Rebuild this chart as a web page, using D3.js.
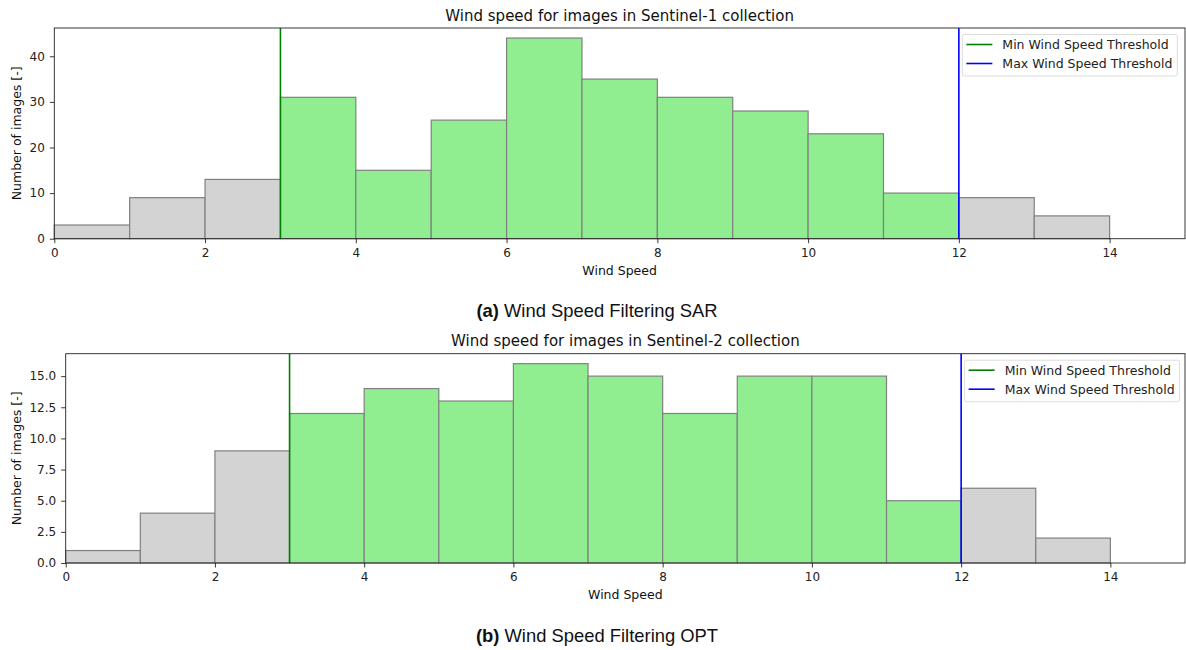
<!DOCTYPE html>
<html><head><meta charset="utf-8">
<script src="https://cdn.jsdelivr.net/npm/d3@7"></script>
<style>
body{margin:0;background:#fff;}
svg{display:block;}
</style></head>
<body>
<svg id="c" width="1186" height="650"></svg>
<script>
const binEdges = [0,1,2,3,4,5,6,7,8,9,10,11,12,13,14];
const sarCounts = [3,9,13,31,15,26,44,35,31,28,23,10,9,5];
const optCounts = [1,4,9,12,14,13,16,15,12,15,15,5,6,2];
const minThreshold = 3;
const maxThreshold = 12;
const xTicks = [0,2,4,6,8,10,12,14];
const sarYTicks = [0,10,20,30,40];
const optYTicks = [0,2.5,5,7.5,10,12.5,15];
const titles = ["Wind speed for images in Sentinel-1 collection","Wind speed for images in Sentinel-2 collection"];
const captions = [["(a)"," Wind Speed Filtering SAR"],["(b)"," Wind Speed Filtering OPT"]];
const legendLabels = ["Min Wind Speed Threshold","Max Wind Speed Threshold"];

const svg = d3.select("#c");
const FONT = "DejaVu Sans, sans-serif";

function panel(cfg){
  const {left,right,top,bottom,counts,yTicks,yFmt,title,caption,captionY} = cfg;
  const ymax = d3.max(counts)*1.05;
  const x = d3.scaleLinear().domain([0,15]).range([left,right]);
  const y = d3.scaleLinear().domain([0,ymax]).range([bottom,top]);
  const g = svg.append("g");
  const bins = counts.map((c,i)=>({x0:binEdges[i],x1:binEdges[i]+1,c}));
  g.selectAll("rect.bar").data(bins).join("rect")
    .attr("x",d=>x(d.x0)).attr("width",d=>x(d.x1)-x(d.x0))
    .attr("y",d=>y(d.c)).attr("height",d=>y(0)-y(d.c))
    .attr("fill",d=>(d.x0>=minThreshold && d.x1<=maxThreshold)?"#90ee90":"#d3d3d3")
    .attr("stroke","#808080").attr("stroke-width",1.2);
  g.append("line").attr("x1",x(minThreshold)).attr("x2",x(minThreshold)).attr("y1",top).attr("y2",bottom)
    .attr("stroke","#008000").attr("stroke-width",1.6);
  g.append("line").attr("x1",x(maxThreshold)).attr("x2",x(maxThreshold)).attr("y1",top).attr("y2",bottom)
    .attr("stroke","#0000ff").attr("stroke-width",1.6);
  const xa = g.append("g").attr("transform",`translate(0,${bottom})`)
    .call(d3.axisBottom(x).tickValues(xTicks).tickSize(4.5).tickPadding(5).tickFormat(d3.format("d")));
  const ya = g.append("g").attr("transform",`translate(${left},0)`)
    .call(d3.axisLeft(y).tickValues(yTicks).tickSize(4.5).tickPadding(5).tickFormat(yFmt));
  [xa,ya].forEach(a=>{
    a.select(".domain").remove();
    a.selectAll("text").attr("font-family",FONT).attr("font-size",12).attr("fill","#222");
    a.selectAll("line").attr("stroke","#222").attr("stroke-width",0.9);
  });
  g.append("rect").attr("x",left).attr("y",top).attr("width",right-left).attr("height",bottom-top)
    .attr("fill","none").attr("stroke","#222").attr("stroke-width",0.9);
  g.append("text").attr("x",(left+right)/2).attr("y",top-7.3).attr("text-anchor","middle")
    .attr("font-family",FONT).attr("font-size",15).attr("fill","#111").text(title);
  g.append("text").attr("x",(left+right)/2).attr("y",bottom+36).attr("text-anchor","middle")
    .attr("font-family",FONT).attr("font-size",12.5).attr("fill","#111").text("Wind Speed");
  g.append("text").attr("transform",`translate(21,${(top+bottom)/2}) rotate(-90)`).attr("text-anchor","middle")
    .attr("font-family",FONT).attr("font-size",12.5).attr("fill","#111").text("Number of images [-]");
  const lg = g.append("g");
  const lx = x(maxThreshold)+3.5, ly = top+6.5;
  const box = lg.append("rect").attr("x",lx).attr("y",ly).attr("rx",2).attr("fill","#fff").attr("fill-opacity",0.8)
    .attr("stroke","#d8d8d8").attr("stroke-width",0.9);
  const cols = ["#008000","#0000ff"];
  let maxW = 0;
  legendLabels.forEach((lab,i)=>{
    const ry = ly+10+i*19;
    lg.append("line").attr("x1",lx+4).attr("x2",lx+30).attr("y1",ry).attr("y2",ry).attr("stroke",cols[i]).attr("stroke-width",1.6);
    const t = lg.append("text").attr("x",lx+40).attr("y",ry+4.3).attr("font-family",FONT).attr("font-size",12.5)
      .attr("fill","#222").text(lab);
    maxW = Math.max(maxW,t.node().getComputedTextLength());
  });
  box.attr("width",40+maxW+5).attr("height",41.5);
  const ct = svg.append("text").attr("x",597).attr("y",captionY).attr("text-anchor","middle")
    .attr("font-family","Liberation Sans, Arial, sans-serif").attr("font-size",18.4).attr("fill","#111");
  ct.append("tspan").attr("font-weight","bold").text(caption[0]);
  ct.append("tspan").text(caption[1]);
}

panel({left:54.3,right:1185,top:28,bottom:238.7,counts:sarCounts,yTicks:sarYTicks,yFmt:d3.format("d"),
  title:titles[0],caption:captions[0],captionY:316.5});
panel({left:65.7,right:1185,top:353.7,bottom:563,counts:optCounts,yTicks:optYTicks,yFmt:d3.format(".1f"),
  title:titles[1],caption:captions[1],captionY:641.5});
</script>
</body></html>
